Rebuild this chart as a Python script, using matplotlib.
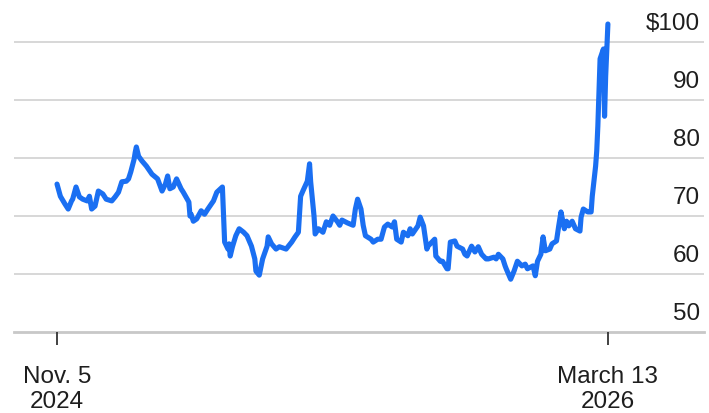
import matplotlib
matplotlib.use("Agg")
import matplotlib.pyplot as plt
import matplotlib.transforms as mtransforms
import pandas as pd

plt.rcParams['font.family'] = ['Liberation Sans', 'DejaVu Sans']

# ---- data (Brent crude, $/barrel) ----
dates = [
    "2024-11-05", "2024-11-08", "2024-11-12", "2024-11-15", "2024-11-18", "2024-11-19",
    "2024-11-22", "2024-11-25", "2024-11-28", "2024-12-02", "2024-12-04", "2024-12-06",
    "2024-12-09", "2024-12-12", "2024-12-16", "2024-12-19", "2024-12-24", "2024-12-27",
    "2024-12-30",
    "2025-01-02", "2025-01-06", "2025-01-08", "2025-01-10", "2025-01-13", "2025-01-14",
    "2025-01-15", "2025-01-17", "2025-01-20", "2025-01-24", "2025-01-29",
    "2025-02-03", "2025-02-07", "2025-02-10", "2025-02-12", "2025-02-14", "2025-02-17",
    "2025-02-20", "2025-02-24", "2025-02-26",
    "2025-03-03", "2025-03-04", "2025-03-05", "2025-03-07", "2025-03-10", "2025-03-14",
    "2025-03-17", "2025-03-20", "2025-03-25", "2025-03-28",
    "2025-04-02", "2025-04-04", "2025-04-07", "2025-04-08", "2025-04-09", "2025-04-11",
    "2025-04-14", "2025-04-17", "2025-04-21", "2025-04-24", "2025-04-28",
    "2025-05-01", "2025-05-02", "2025-05-05", "2025-05-08", "2025-05-12", "2025-05-13",
    "2025-05-16", "2025-05-20", "2025-05-23", "2025-05-29",
    "2025-06-03", "2025-06-06", "2025-06-09", "2025-06-11", "2025-06-13", "2025-06-17",
    "2025-06-19", "2025-06-20", "2025-06-23", "2025-06-24", "2025-06-27",
    "2025-07-01", "2025-07-04", "2025-07-07", "2025-07-10", "2025-07-14", "2025-07-16",
    "2025-07-18", "2025-07-23", "2025-07-28", "2025-07-30",
    "2025-08-01", "2025-08-04", "2025-08-06", "2025-08-08", "2025-08-13", "2025-08-15",
    "2025-08-19", "2025-08-22", "2025-08-25", "2025-08-28",
    "2025-09-01", "2025-09-03", "2025-09-05", "2025-09-09", "2025-09-11", "2025-09-15",
    "2025-09-17", "2025-09-19", "2025-09-24", "2025-09-26", "2025-09-29",
    "2025-10-02", "2025-10-03", "2025-10-09", "2025-10-10", "2025-10-14", "2025-10-16",
    "2025-10-20", "2025-10-21", "2025-10-23", "2025-10-27", "2025-10-29",
    "2025-11-03", "2025-11-05", "2025-11-07", "2025-11-11", "2025-11-14", "2025-11-17",
    "2025-11-20", "2025-11-24", "2025-11-26",
    "2025-12-01", "2025-12-03", "2025-12-05", "2025-12-09", "2025-12-11", "2025-12-12",
    "2025-12-16", "2025-12-19", "2025-12-22", "2025-12-26", "2025-12-29", "2025-12-31",
    "2026-01-05", "2026-01-07", "2026-01-09", "2026-01-12", "2026-01-14", "2026-01-16",
    "2026-01-20", "2026-01-22", "2026-01-26", "2026-01-28", "2026-01-30",
    "2026-02-02", "2026-02-04", "2026-02-06", "2026-02-09", "2026-02-12", "2026-02-16",
    "2026-02-17", "2026-02-19", "2026-02-23", "2026-02-26", "2026-02-27",
    "2026-03-02", "2026-03-03", "2026-03-04", "2026-03-05", "2026-03-06", "2026-03-09",
    "2026-03-10", "2026-03-11", "2026-03-12", "2026-03-13",
]
prices = [
    75.5, 73.4, 72.1, 71.2, 72.6, 72.9,
    75.0, 73.3, 72.9, 72.6, 73.4, 71.2,
    71.7, 74.3, 73.8, 72.9, 72.6, 73.3,
    74.1,
    75.9, 76.0, 76.4, 77.6, 79.8, 81.0,
    81.9, 80.3, 79.5, 78.6, 77.2,
    76.4, 74.3, 75.5, 76.9, 74.7, 75.0,
    76.4, 74.7, 74.1,
    72.4, 70.0, 70.3, 69.1, 69.5, 70.9,
    70.3, 71.2, 72.6, 74.1,
    75.0, 65.5, 64.3, 65.2, 63.1, 64.7,
    66.6, 67.8, 67.2, 66.6, 64.8,
    62.6, 60.5, 59.8, 62.6, 64.8, 66.4,
    65.2, 64.3, 64.7, 64.3,
    65.5, 66.4, 67.2, 73.4, 74.3, 76.0,
    79.0, 75.9, 70.0, 66.9, 67.8,
    67.2, 69.0, 68.4, 70.0, 69.0, 68.4,
    69.3, 68.8, 68.4, 71.2,
    72.9, 71.2, 68.4, 66.6, 66.0, 65.5,
    66.0, 66.0, 68.1, 68.6,
    68.1, 69.0, 66.0, 65.5, 67.2, 66.6,
    67.8, 66.9, 68.3, 69.8, 68.3,
    64.3, 64.8, 66.0, 63.1, 62.2, 62.2,
    60.9, 60.9, 65.5, 65.7, 64.8,
    64.3, 63.4, 63.1, 64.8, 63.8, 64.7,
    63.4, 62.6, 62.6,
    62.9, 62.6, 63.4, 62.6, 61.4, 60.9,
    59.1, 60.5, 62.2, 61.4, 61.7, 60.9,
    61.4, 59.7, 62.2, 63.4, 66.4, 64.0,
    64.3, 65.2, 65.7, 68.3, 70.7,
    67.8, 69.1, 68.3, 69.1, 67.8, 67.4,
    69.8, 71.2, 70.7, 70.7, 73.4,
    78.6, 81.2, 85.5, 91.4, 97.1, 98.8,
    87.2, 94.1, 98.8, 103.1,
]
y_ticks = [50, 60, 70, 80, 90, 100]
y_labels = ["50", "60", "70", "80", "90", "$100"]
x_tick_dates = ["2024-11-05", "2026-03-13"]
x_tick_labels = ["Nov. 5\n2024", "March 13\n2026"]

# ---- figure ----
W, H = 709, 414
fig = plt.figure(figsize=(W / 100, H / 100), dpi=100)
fig.patch.set_facecolor("white")
ax = fig.add_axes([14 / W, (H - 333) / H, 690 / W, (333 - 14) / H])

start = pd.Timestamp("2024-11-05")
ax.set_xlim(start - pd.Timedelta(days=38.5), start + pd.Timedelta(days=579))
ax.set_ylim(50, 105)

for v in y_ticks:
    if v == 50:
        ax.axhline(v, color="#c8c8c8", lw=2.0, zorder=1, clip_on=False)
    else:
        ax.axhline(v, color="#d4d4d4", lw=1.3, zorder=1)

ax.plot(pd.to_datetime(dates), prices, color="#1a6ff2", lw=3.7,
        solid_joinstyle="round", solid_capstyle="round", zorder=3)

for s in ax.spines.values():
    s.set_visible(False)
ax.set_yticks([])
ax.set_xticks(pd.to_datetime(x_tick_dates))
ax.set_xticklabels(x_tick_labels, linespacing=1.22)
ax.tick_params(axis="x", length=9, width=1.3, color="#333333", pad=14.5,
               labelsize=17.5, labelcolor="#1e1e1e")

trans = mtransforms.blended_transform_factory(ax.transAxes, ax.transData)
for v, lab in zip(y_ticks, y_labels):
    ax.annotate(lab, xy=(1.0, v), xycoords=trans, xytext=(-3, 9.5),
                textcoords="offset points", ha="right", va="baseline",
                fontsize=17.5, color="#1e1e1e")

fig.savefig("out.png", dpi=100, facecolor="white")
